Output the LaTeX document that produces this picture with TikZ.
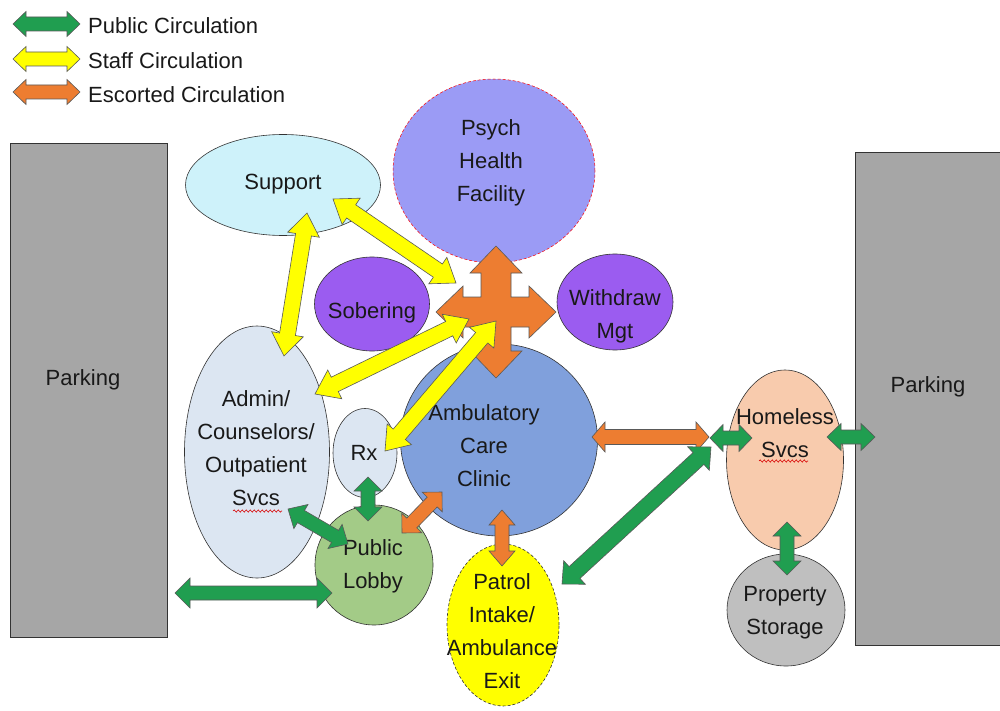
\documentclass[tikz,border=0pt]{standalone}
\usepackage{fontspec}
\setmainfont{Liberation Sans}
\usetikzlibrary{shapes.geometric,calc,decorations.pathmorphing}

\definecolor{pubgreen}{RGB}{32,158,80}
\definecolor{stafyellow}{RGB}{255,255,0}
\definecolor{escorange}{RGB}{237,125,49}
\definecolor{parkgray}{RGB}{166,166,166}
\definecolor{supportfill}{RGB}{206,242,250}
\definecolor{psychfill}{RGB}{155,155,245}
\definecolor{purplefill}{RGB}{155,92,240}
\definecolor{ambfill}{RGB}{128,160,220}
\definecolor{adminfill}{RGB}{220,230,242}
\definecolor{lobbyfill}{RGB}{163,203,135}
\definecolor{homefill}{RGB}{248,203,173}
\definecolor{propfill}{RGB}{191,191,191}

% block double arrow between two named coordinates
% #1 fill, #2 from, #3 to, #4 shaft half width, #5 head half width, #6 head length
\newcommand\blockarrow[6]{%
  \draw[arrowline, fill=#1] let \p1=(#2), \p2=(#3),
    \n1={atan2(\y2-\y1,\x2-\x1)}, \n2={veclen(\x2-\x1,\y2-\y1)} in
    [shift={(\p1)}, rotate=\n1]
    (0,0) -- (#6,#5) -- (#6,#4) -- (\n2-#6,#4) -- (\n2-#6,#5) -- (\n2,0)
    -- (\n2-#6,-#5) -- (\n2-#6,-#4) -- (#6,-#4) -- (#6,-#5) -- cycle;}

\tikzset{
  bubble/.style={ellipse, draw=black!80, line width=0.6pt, inner sep=0pt},
  txt/.style={font=\fontsize{22}{33}\selectfont, align=center, inner sep=0pt, text=black!90},
  legtxt/.style={txt, anchor=west},
  arrowline/.style={draw=black!65, line width=0.6pt, line join=miter},
  squiggle/.style={red!85!black, line width=0.6pt, decorate,
    decoration={snake, amplitude=1.1pt, segment length=4pt}},
}

\begin{document}
\begin{tikzpicture}[x=1pt, y=-1pt]
\useasboundingbox (0,0) rectangle (1000,711);
\fill[white] (0,0) rectangle (1000,711);

% ---------- legend ----------
\coordinate (lg1a) at (13,24);  \coordinate (lg1b) at (80,24);
\coordinate (lg2a) at (13,59);  \coordinate (lg2b) at (80,59);
\coordinate (lg3a) at (13,92);  \coordinate (lg3b) at (80,92);
\blockarrow{pubgreen}{lg1a}{lg1b}{7}{12.5}{13}
\blockarrow{stafyellow}{lg2a}{lg2b}{7}{12.5}{13}
\blockarrow{escorange}{lg3a}{lg3b}{7}{12.5}{13}
\node[legtxt] (leg1) at (88,26) {Public Circulation};
\node[legtxt] (leg2) at (88,61) {Staff Circulation};
\node[legtxt] (leg3) at (88,95) {Escorted Circulation};

% ---------- parking ----------
\node[draw=black!80, line width=0.6pt, fill=parkgray, minimum width=157pt, minimum height=494pt, inner sep=0pt] (parkL) at (88.5,390) {};
\node[txt] (parkLt) at (83,380) {Parking};
\draw[draw=black!80, line width=0.6pt, fill=parkgray] (855,152) rectangle (1006,645);
\coordinate (parkR) at (930,398);
\node[txt] (parkRt) at (928,387) {Parking};

% ---------- bubbles ----------
\node[bubble, fill=adminfill, minimum width=145pt, minimum height=252pt] (admin) at (257,452) {};
\node[txt] (admint) at (256,448) {Admin/\\Counselors/\\Outpatient\\Svcs};
\draw[squiggle] (233,511) -- (282,511);

\node[bubble, fill=lobbyfill, minimum width=118pt, minimum height=120pt] (lobby) at (374,565) {};
\node[txt] (lobbyt) at (373,566) {Public\\Lobby};

\node[bubble, fill=adminfill, minimum width=64pt, minimum height=89pt] (rx) at (365,453) {};
\node[txt] (rxt) at (364,453) {Rx};

\node[bubble, fill=ambfill, minimum width=197pt, minimum height=192pt] (amb) at (499,440) {};
\node[txt] (ambt) at (484,446) {Ambulatory\\Care\\Clinic};

\node[bubble, fill=purplefill, minimum width=115pt, minimum height=94pt] (sober) at (372,304) {};
\node[txt] (sobert) at (372,313) {Sobering};

\node[bubble, fill=purplefill, minimum width=116pt, minimum height=96pt] (withdraw) at (615,302) {};
\node[txt] (withdrawt) at (615,316) {Withdraw\\Mgt};

\node[bubble, draw=red, densely dashed, line width=0.5pt, fill=psychfill, minimum width=202pt, minimum height=184pt] (psych) at (494,171) {};
\node[txt] (psycht) at (491,163) {Psych\\Health\\Facility};

\node[bubble, fill=supportfill, minimum width=195pt, minimum height=101pt] (support) at (283,185) {};
\node[txt] (supportt) at (283,184) {Support};

\node[bubble, densely dashed, fill=stafyellow, minimum width=112pt, minimum height=162pt] (patrol) at (503,625) {};
\node[txt] (patrolt) at (502,631) {Patrol\\Intake/\\Ambulance\\Exit};

\node[bubble, fill=homefill, minimum width=117pt, minimum height=180pt] (homeless) at (785,460) {};
\node[txt] (homelesst) at (785,433) {Homeless\\Svcs};
\draw[squiggle] (759,461) -- (808,461);

\node[bubble, fill=propfill, minimum width=118pt, minimum height=112pt] (property) at (786,610) {};
\node[txt] (propertyt) at (785,613) {Property\\Storage};

% ---------- escorted cross ----------
\coordinate (cross) at (496,312);
\draw[arrowline, fill=escorange, shift={(cross)}]
  (0,-66) -- (26,-39) -- (15,-39) -- (15,-15) -- (33,-15) -- (33,-26) -- (60,0)
  -- (33,26) -- (33,15) -- (15,15) -- (15,39) -- (26,39) -- (0,66)
  -- (-26,39) -- (-15,39) -- (-15,15) -- (-33,15) -- (-33,26) -- (-60,0)
  -- (-33,-26) -- (-33,-15) -- (-15,-15) -- (-15,-39) -- (-26,-39) -- cycle;

% ---------- staff circulation (yellow) ----------
\coordinate (y1a) at (333,199); \coordinate (y1b) at (456,283);
\coordinate (y2a) at (307,213); \coordinate (y2b) at (284,356);
\coordinate (y3a) at (315,394); \coordinate (y3b) at (469,319);
\coordinate (y4a) at (385,451); \coordinate (y4b) at (496,321);
\blockarrow{stafyellow}{y1a}{y1b}{8}{16}{22}
\blockarrow{stafyellow}{y2a}{y2b}{8}{16}{22}
\blockarrow{stafyellow}{y3a}{y3b}{8}{16}{22}
\blockarrow{stafyellow}{y4a}{y4b}{8}{16}{22}

% ---------- escorted circulation (orange) ----------
\coordinate (o1a) at (592,437); \coordinate (o1b) at (709,437);
\coordinate (o2a) at (402,533); \coordinate (o2b) at (442,492);
\coordinate (o3a) at (502,510); \coordinate (o3b) at (502,566);
\blockarrow{escorange}{o1a}{o1b}{7.5}{15}{13}
\blockarrow{escorange}{o2a}{o2b}{7}{14}{14}
\blockarrow{escorange}{o3a}{o3b}{7}{13}{15}

% ---------- public circulation (green) ----------
\coordinate (g1a) at (368,477); \coordinate (g1b) at (368,521);
\coordinate (g2a) at (288,509); \coordinate (g2b) at (348,544);
\coordinate (g3a) at (175,593); \coordinate (g3b) at (332,593);
\coordinate (g4a) at (562,584); \coordinate (g4b) at (711,447);
\coordinate (g5a) at (710,438); \coordinate (g5b) at (752,438);
\coordinate (g6a) at (827,437); \coordinate (g6b) at (875,437);
\coordinate (g7a) at (787,522); \coordinate (g7b) at (787,575);
\blockarrow{pubgreen}{g1a}{g1b}{7}{14}{14}
\blockarrow{pubgreen}{g2a}{g2b}{7}{14}{15}
\blockarrow{pubgreen}{g3a}{g3b}{7}{15}{15}
\blockarrow{pubgreen}{g4a}{g4b}{8}{16}{17}
\blockarrow{pubgreen}{g5a}{g5b}{7}{13.5}{13}
\blockarrow{pubgreen}{g6a}{g6b}{7}{13.5}{14}
\blockarrow{pubgreen}{g7a}{g7b}{7}{14}{14}
\end{tikzpicture}
\end{document}
